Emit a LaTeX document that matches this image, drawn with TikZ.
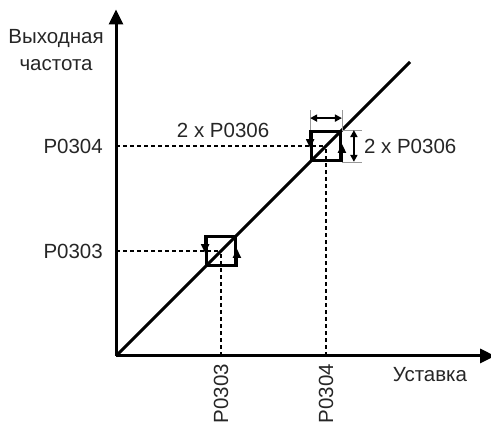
\documentclass[tikz,border=0pt]{standalone}
\usepackage{fontspec}
\setmainfont{Liberation Sans}
\usetikzlibrary{arrows.meta, positioning, calc}

\begin{document}
\begin{tikzpicture}[x=105pt, y=105pt,
    lbl/.style={inner sep=0pt, font=\fontsize{20.5}{27}\selectfont, text=black!85},
    axis/.style={line width=3pt, -{Triangle[length=15pt,width=14pt]}},
    guide/.style={line width=2.2pt, dash pattern=on 4pt off 3pt},
    hbox/.style={rectangle, draw, line width=2.8pt, minimum size=29pt, inner sep=0pt},
    flow/.style={line width=2.2pt, -{Triangle[length=9pt,width=8pt]}},
    dim/.style={line width=2pt, {Triangle[length=7pt,width=7pt]}-{Triangle[length=7pt,width=7pt]}},
    ext/.style={line width=0.6pt, black!40}
]
    \useasboundingbox (-1.105,-0.648) rectangle (3.571,3.390);
    \coordinate (o) at (0,0);
    \coordinate (xend) at (3.61,0);
    \coordinate (yend) at (0,3.3);
    \coordinate (dend) at (2.8,2.8);
    \coordinate (y3) at (0,1);
    \coordinate (x3) at (1,0);
    \coordinate (y4) at (0,2);
    \coordinate (x4) at (2,0);

    % axes and characteristic
    \draw[axis] (o) -- (xend);
    \draw[axis] (o) -- (yend);
    \draw[line width=3pt] (o) -- (dend);

    % hysteresis boxes
    \node[hbox] (b3) at (1,1) {};
    \node[hbox] (b4) at (2,2) {};
    \draw[guide] (y3) -- (b3.center);
    \draw[guide] (x3) -- (b3.center);
    \draw[guide] (y4) -- (b4.center);
    \draw[guide] (x4) -- (b4.center);
    \draw[flow] (b3.north west) -- ($(b3.west)+(0,-0.02)$);
    \draw[flow] (b3.south east) -- ($(b3.east)+(0,0.02)$);
    \draw[flow] (b4.north west) -- ($(b4.west)+(0,-0.02)$);
    \draw[flow] (b4.south east) -- ($(b4.east)+(0,0.02)$);

    % band width marks
    \coordinate (e1) at ($(b4.north west)+(0,0.19)$);
    \coordinate (e2) at ($(b4.north east)+(0,0.19)$);
    \coordinate (e3) at ($(b4.north east)+(0.19,0)$);
    \coordinate (e4) at ($(b4.south east)+(0.19,0)$);
    \draw[ext] (b4.north west) -- (e1);
    \draw[ext] (b4.north east) -- (e2);
    \draw[ext] (b4.north east) -- (e3);
    \draw[ext] (b4.south east) -- (e4);
    \draw[dim] ($(b4.north west)+(0,0.114)$) -- ($(b4.north east)+(0,0.114)$);
    \draw[dim] ($(b4.north east)+(0.114,0)$) -- ($(b4.south east)+(0.114,0)$);

    % labels
    \node[lbl, align=center] (ylab) at (-0.571,2.914) {Выходная\\частота};
    \node[lbl] (xlab) at (2.99,-0.181) {Уставка};
    \node[lbl, anchor=east] (ly3) at (-0.124,1) {P0303};
    \node[lbl, anchor=east] (ly4) at (-0.124,2) {P0304};
    \node[lbl, rotate=90, anchor=east] (lx3) at (1,-0.075) {P0303};
    \node[lbl, rotate=90, anchor=east] (lx4) at (2,-0.075) {P0304};
    \node[lbl] (dx) at (1.02,2.15) {2 x P0306};
    \node[lbl, anchor=west] (dy) at (2.36,2) {2 x P0306};
\end{tikzpicture}
\end{document}
